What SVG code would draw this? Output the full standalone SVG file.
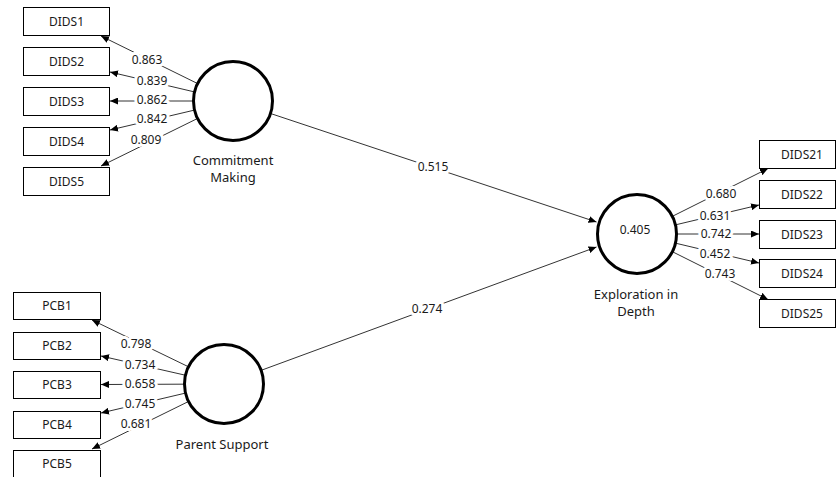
<svg xmlns="http://www.w3.org/2000/svg" width="836" height="477" viewBox="0 0 836 477">
<style>
.box{fill:#fff;stroke:#000;stroke-width:1}
.bt{font-family:"Noto Sans","Open Sans",sans-serif;font-size:12px;fill:#1a1a1a;text-anchor:middle}
.lv{fill:#fff;stroke:#000;stroke-width:3}
.lt{font-family:"Noto Sans","Open Sans",sans-serif;font-size:13px;fill:#1a1a1a;text-anchor:middle}
.ln{stroke:#333;stroke-width:1;fill:none;marker-end:url(#ah)}
.wt{font-family:"Noto Sans","Open Sans",sans-serif;font-size:12px;fill:#1a1a1a;text-anchor:middle;stroke:#fff;stroke-width:6;paint-order:stroke;stroke-linejoin:round}
</style>
<defs>
<marker id="ah" viewBox="0 0 8 7" refX="8" refY="3.5" markerWidth="8" markerHeight="7" markerUnits="userSpaceOnUse" orient="auto">
<path d="M0,0 L8,3.5 L0,7 z" fill="#000"/>
</marker>
</defs>
<rect width="836" height="477" fill="#fff"/>
<g id="connectors">
<line class="ln" x1="233" y1="101" x2="101" y2="36"/>
<line class="ln" x1="233" y1="101" x2="110" y2="72"/>
<line class="ln" x1="233" y1="101" x2="110" y2="101"/>
<line class="ln" x1="233" y1="101" x2="110" y2="130"/>
<line class="ln" x1="233" y1="101" x2="101" y2="166"/>
<line class="ln" x1="224" y1="384" x2="92" y2="320"/>
<line class="ln" x1="224" y1="384" x2="101" y2="356"/>
<line class="ln" x1="224" y1="384" x2="101" y2="384.5"/>
<line class="ln" x1="224" y1="384" x2="101" y2="413"/>
<line class="ln" x1="224" y1="384" x2="92" y2="449"/>
<line class="ln" x1="637" y1="234" x2="768" y2="168.5"/>
<line class="ln" x1="637" y1="234" x2="759" y2="205"/>
<line class="ln" x1="637" y1="234" x2="759" y2="234"/>
<line class="ln" x1="637" y1="234" x2="759" y2="263"/>
<line class="ln" x1="637" y1="234" x2="768" y2="299.5"/>
<line class="ln" x1="233" y1="101" x2="596.5" y2="222"/>
<line class="ln" x1="224" y1="384" x2="596.5" y2="247"/>
<text class="wt" x="147" y="64.3">0.863</text>
<text class="wt" x="152" y="85.3">0.839</text>
<text class="wt" x="152" y="104.3">0.862</text>
<text class="wt" x="152" y="123.3">0.842</text>
<text class="wt" x="146" y="144.3">0.809</text>
<text class="wt" x="136" y="348.3">0.798</text>
<text class="wt" x="140" y="369.3">0.734</text>
<text class="wt" x="140" y="388.3">0.658</text>
<text class="wt" x="140" y="408.3">0.745</text>
<text class="wt" x="136" y="428.3">0.681</text>
<text class="wt" x="721" y="198">0.680</text>
<text class="wt" x="715" y="219.5">0.631</text>
<text class="wt" x="716" y="237.5">0.742</text>
<text class="wt" x="715" y="257.5">0.452</text>
<text class="wt" x="720" y="278.3">0.743</text>
<text class="wt" x="433" y="171.3">0.515</text>
<text class="wt" x="427" y="313.3">0.274</text>
</g>
<g id="DIDS1"><rect class="box" x="23.5" y="7.5" width="86" height="28"/><text class="bt" x="66.5" y="25.8">DIDS1</text></g>
<g id="DIDS2"><rect class="box" x="23.5" y="47.5" width="86" height="28"/><text class="bt" x="66.5" y="65.8">DIDS2</text></g>
<g id="DIDS3"><rect class="box" x="23.5" y="87.5" width="86" height="28"/><text class="bt" x="66.5" y="105.8">DIDS3</text></g>
<g id="DIDS4"><rect class="box" x="23.5" y="127.5" width="86" height="28"/><text class="bt" x="66.5" y="145.8">DIDS4</text></g>
<g id="DIDS5"><rect class="box" x="23.5" y="167.5" width="86" height="28"/><text class="bt" x="66.5" y="185.8">DIDS5</text></g>
<g id="PCB1"><rect class="box" x="13.5" y="292.5" width="87" height="27"/><text class="bt" x="57" y="310.3">PCB1</text></g>
<g id="PCB2"><rect class="box" x="13.5" y="332.5" width="87" height="27"/><text class="bt" x="57" y="350.3">PCB2</text></g>
<g id="PCB3"><rect class="box" x="13.5" y="371.5" width="87" height="27"/><text class="bt" x="57" y="389.3">PCB3</text></g>
<g id="PCB4"><rect class="box" x="13.5" y="411.5" width="87" height="27"/><text class="bt" x="57" y="429.3">PCB4</text></g>
<g id="PCB5"><rect class="box" x="13.5" y="450.5" width="87" height="30"/><text class="bt" x="57" y="468.3">PCB5</text></g>
<g id="DIDS21"><rect class="box" x="759.5" y="140.5" width="76" height="28"/><text class="bt" x="802" y="158.8">DIDS21</text></g>
<g id="DIDS22"><rect class="box" x="759.5" y="180.5" width="76" height="28"/><text class="bt" x="802" y="198.8">DIDS22</text></g>
<g id="DIDS23"><rect class="box" x="759.5" y="220.5" width="76" height="28"/><text class="bt" x="802" y="238.8">DIDS23</text></g>
<g id="DIDS24"><rect class="box" x="759.5" y="259.5" width="76" height="28"/><text class="bt" x="802" y="277.8">DIDS24</text></g>
<g id="DIDS25"><rect class="box" x="759.5" y="299.5" width="76" height="28"/><text class="bt" x="802" y="317.8">DIDS25</text></g>
<g id="CommitmentMaking"><circle class="lv" cx="233" cy="101" r="39.5"/><text class="lt" x="233" y="165">Commitment</text><text class="lt" x="233" y="182">Making</text></g>
<g id="ParentSupport"><circle class="lv" cx="224" cy="384" r="39.5"/><text class="lt" x="222" y="448.5">Parent Support</text></g>
<g id="ExplorationInDepth"><circle class="lv" cx="637" cy="234" r="39.5"/><text class="bt" x="635" y="233.5">0.405</text><text class="lt" x="636" y="298.5">Exploration in</text><text class="lt" x="636" y="315.5">Depth</text></g>
</svg>
